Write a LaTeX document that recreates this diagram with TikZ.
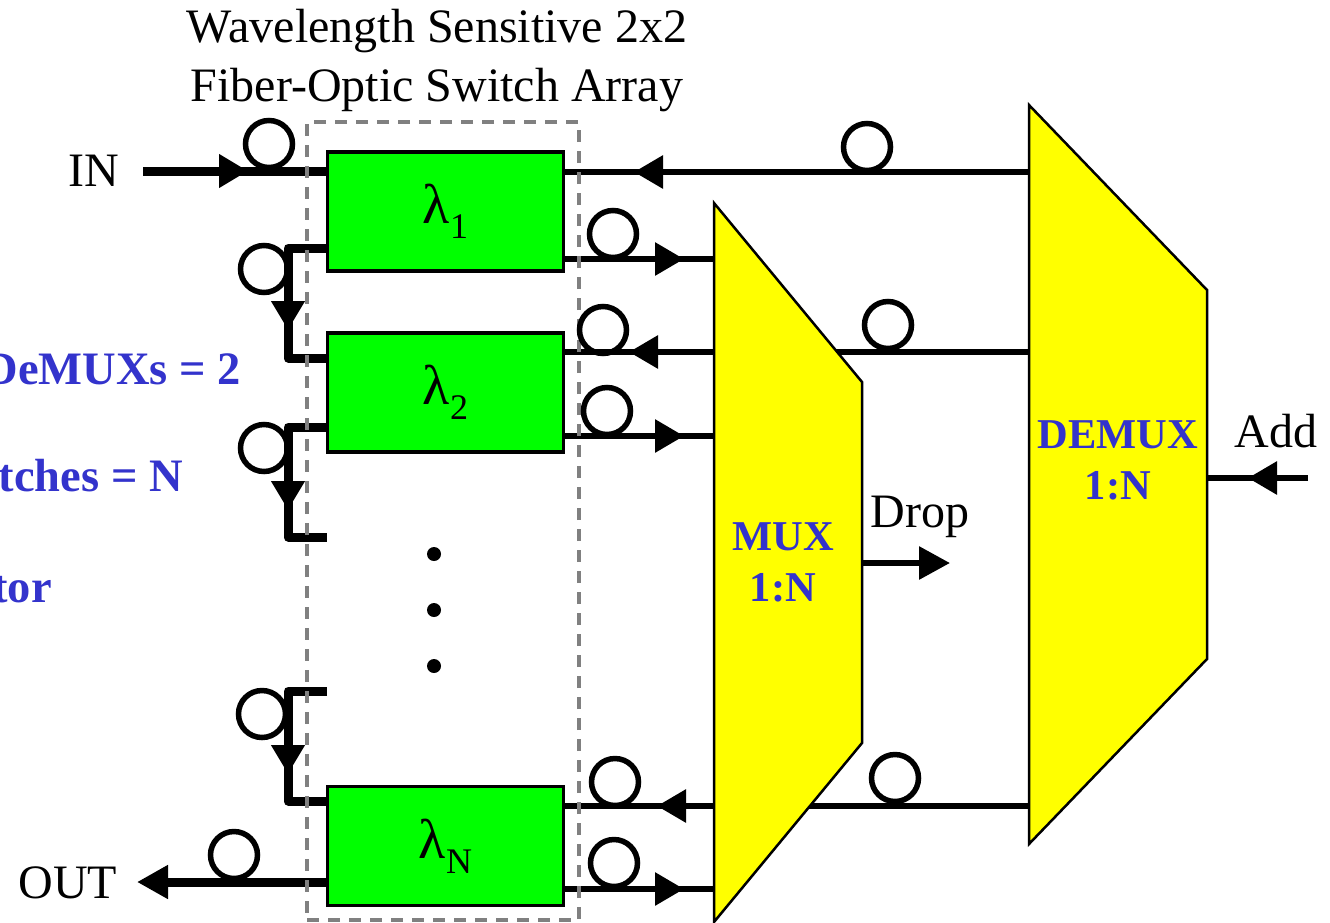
\documentclass[tikz,border=0pt]{standalone}
\usepackage{fontspec}
\setmainfont{Liberation Serif}
\usepackage{tikz}
\usetikzlibrary{arrows.meta, positioning, decorations.markings}
\definecolor{SwitchGreen}{HTML}{00FF00}
\definecolor{MuxYellow}{HTML}{FFFF00}
\definecolor{LabelBlue}{HTML}{3333CC}
\definecolor{ArrayGray}{HTML}{808080}
\newcommand{\lam}[1]{{\fontsize{56}{56}\selectfont λ}{\fontsize{36}{36}\selectfont\raisebox{-15pt}{#1}}}

\begin{document}
\begin{tikzpicture}[x=1pt, y=-1pt, node distance=62pt,
    every node/.style={font=\fontsize{48}{52}\selectfont},
    switchbox/.style={draw=black, fill=SwitchGreen, line width=3.5pt, minimum width=236pt, minimum height=119pt, inner sep=0pt, outer sep=0pt},
    fiberloop/.style={draw=black, circle, line width=5.5pt, minimum size=47pt, inner sep=0pt, outer sep=0pt},
    fiber/.style={line width=6pt, line join=round},
    heavyfiber/.style={line width=9pt, line join=round},
    flow/.style={postaction={decorate, decoration={markings, mark=at position #1 with {\arrow{Triangle[length=29pt,width=32pt]}}}}},
    endtip/.style={-{Triangle[length=31pt,width=32pt]}},
    muxshape/.style={draw=black, fill=MuxYellow, line width=2.5pt, line join=miter},
    bluelabel/.style={font=\bfseries\fontsize{42.5}{50}\selectfont, text=LabelBlue, inner sep=0pt},
    notelabel/.style={font=\bfseries\fontsize{46.5}{50}\selectfont, text=LabelBlue, inner sep=0pt, anchor=east}]
      \useasboundingbox (0,0) rectangle (1330,922);
      % switch array
      \node[switchbox] (l1) at (445.5,211.5) {\lam{1}};
      \node[switchbox, below=of l1] (l2) {\lam{2}};
      \node[switchbox] (lN) at (445.5,846) {\lam{N}};
      % free ends and ports
      \coordinate (in) at (143,171);
      \coordinate (out) at (137,882);
      \coordinate (l1a) at (327,171);
      \coordinate (l1b) at (327,248);
      \coordinate (l1c) at (564,172);
      \coordinate (l1d) at (564,259);
      \coordinate (l2a) at (327,358);
      \coordinate (l2b) at (327,427);
      \coordinate (l2c) at (564,352);
      \coordinate (l2d) at (564,436);
      \coordinate (l3a) at (327,537);
      \coordinate (l4b) at (327,691);
      \coordinate (lNa) at (327,801);
      \coordinate (lNb) at (327,882);
      \coordinate (lNc) at (564,806);
      \coordinate (lNd) at (564,889);
      \coordinate (m1) at (714,259);
      \coordinate (m2) at (714,436);
      \coordinate (m3) at (714,889);
      \coordinate (d1) at (1029,172);
      \coordinate (d2) at (1029,352);
      \coordinate (d3) at (1029,806);
      \coordinate (dropa) at (862,563);
      \coordinate (dropb) at (950,563);
      \coordinate (adda) at (1308,478);
      \coordinate (addb) at (1207,478);
      % connectors
      \draw[heavyfiber, flow=105pt] (in) -- (l1a);
      \draw[heavyfiber, flow=121pt] (l1b) -- ++(-39,0) |- (l2a);
      \draw[heavyfiber, flow=122pt] (l2b) -- ++(-39,0) |- (l3a);
      \draw[heavyfiber, flow=122pt] (l4b) -- ++(-39,0) |- (lNa);
      \draw[heavyfiber, endtip] (lNb) -- (out);
      \draw[fiber, flow=395pt] (d1) -- (l1c);
      \draw[fiber, flow=120pt] (l1d) -- (m1);
      \draw[fiber, flow=400pt] (d2) -- (l2c);
      \draw[fiber, flow=120pt] (l2d) -- (m2);
      \draw[fiber, flow=372pt] (d3) -- (lNc);
      \draw[fiber, flow=120pt] (lNd) -- (m3);
      \draw[fiber, endtip] (dropa) -- (dropb);
      \draw[fiber, flow=60pt] (adda) -- (addb);
      % array outline
      \node[draw=ArrayGray, line width=4pt, dash pattern=on 12pt off 9pt, minimum width=272pt, minimum height=798pt, inner sep=0pt] (array) at (443,521) {};
      % fiber loops
      \foreach \name/\x/\y in {la/269/144, lb/264/269, lc/264/448, ld/262/714, le/234/855, lf/867/147, lg/613/234, lh/603/330, li/607/411, lj/888/325, lk/615/782, lm/614/863, ln/895/778}
        \node[fiberloop] (\name) at (\x,\y) {};
      % mux and demux
      \draw[muxshape] (714,203) -- (862,382) -- (862,743) -- (714,922) -- cycle;
      \draw[muxshape] (1029,105) -- (1207,290) -- (1207,659) -- (1029,844) -- cycle;
      % dots
      \foreach \i/\y in {1/554, 2/610, 3/666}
        \node[circle, fill=black, inner sep=0pt, minimum size=14pt] (dot\i) at (434,\y) {};
      % labels
      \node (title1) at (437,31) {Wavelength Sensitive 2x2};
      \node (title2) at (437,90) {Fiber-Optic Switch Array};
      \node (inlabel) at (94,171) {IN};
      \node (outlabel) at (68,883) {OUT};
      \node (droplabel) at (920,517) {Drop};
      \node (addlabel) at (1276,431) {Add};
      \node[bluelabel] (muxa) at (783,537) {MUX};
      \node[bluelabel] (muxb) at (783,588) {1:N};
      \node[bluelabel] (demuxa) at (1118,435) {DEMUX};
      \node[bluelabel] (demuxb) at (1118,486) {1:N};
      \node[notelabel] (notea) at (241,369) {DeMUXs = 2};
      \node[notelabel] (noteb) at (183,476) {tches = N};
      \node[notelabel] (notec) at (52,590) {tor};
    \end{tikzpicture}
\end{document}
